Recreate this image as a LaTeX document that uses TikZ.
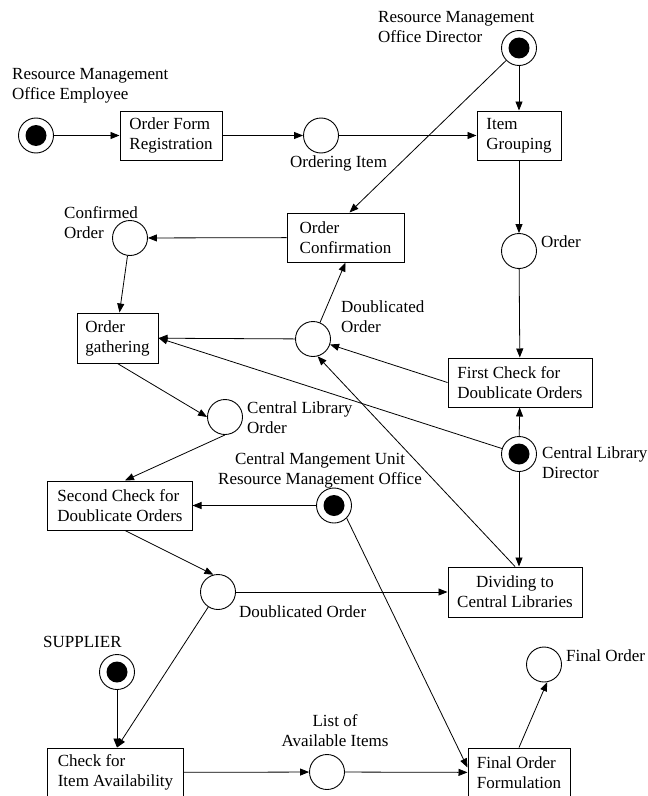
\documentclass[tikz,border=0pt]{standalone}
\usepackage{fontspec}
\setmainfont{Liberation Serif}
\usetikzlibrary{arrows.meta}
\begin{document}
\begin{tikzpicture}[x=1bp,y=-1bp,
  every node/.style={font=\fontsize{17bp}{20bp}\selectfont},
  place/.style={circle,draw,line width=0.9bp,minimum size=35bp,inner sep=0pt},
  token/.style={place,path picture={\fill[black] (path picture bounding box.center) circle (10.5bp);}},
  trans/.style={draw,line width=1bp,inner sep=0pt,align=left,minimum height=49bp},
  lbl/.style={inner sep=0pt,align=left,anchor=west},
  clbl/.style={inner sep=0pt,align=center},
  arc/.style={line width=0.8bp,-{Triangle[length=9bp,width=7bp]}}
]
\fill[white] (0,0) rectangle (648,796);
\useasboundingbox (0,0) rectangle (648,796);

% places and transitions
\node[token] (RMOE) at (36,135.5) {};
\node[trans,minimum width=102bp] (OFR) at (171,135.5) {Order Form\\Registration};
\node[place] (OI) at (321,135.5) {};
\node[trans,minimum width=84bp] (IG) at (519,135.5) {Item\\Grouping};
\node[token] (RMOD) at (519,48) {};
\node[trans,minimum width=117bp] (OC) at (345.5,237.5) {Order\\Confirmation};
\node[place] (CO) at (130,238) {};
\node[place] (ORD) at (519,251) {};
\node[trans,minimum width=81bp,minimum height=50bp] (OG) at (117.5,338) {Order\\gathering};
\node[place] (DO1) at (313,339) {};
\node[trans,minimum width=144bp] (FC) at (520,382.5) {First Check for\\Doublicate Orders};
\node[place] (CLO) at (225,417) {};
\node[token] (CLD) at (519,454) {};
\node[trans,minimum width=144bp] (SC) at (120,505.5) {Second Check for\\Doublicate Orders};
\node[token] (CMU) at (334,505.5) {};
\node[place] (DO2) at (218,592) {};
\node[trans,minimum width=134bp,minimum height=50bp,align=center] (DIV) at (515,592) {Dividing to\\Central Libraries};
\node[token] (SUP) at (117,672) {};
\node[place] (FO) at (544,664.5) {};
\node[trans,minimum width=135bp] (CIA) at (115.5,772.5) {Check for\\Item Availability};
\node[place] (LAI) at (327,772) {};
\node[trans,minimum width=102bp] (FOF) at (519,772.5) {Final Order\\Formulation};

% labels
\node[lbl] (lRMOE) at (12,86) {Resource Management\\Office Employee};
\node[lbl] (lRMOD) at (378,27) {Resource Management\\Office Director};
\node[lbl] (lOI) at (290,163) {Ordering Item};
\node[lbl] (lCO) at (64,222.5) {Confirmed\\Order};
\node[lbl] (lORD) at (541,242) {Order};
\node[lbl] (lDO1) at (341,317) {Doublicated\\Order};
\node[lbl] (lCLO) at (247,418) {Central Library\\Order};
\node[lbl] (lCLD) at (542,462.5) {Central Library\\Director};
\node[clbl] (lCMU) at (320,470) {Central Mangement Unit\\Resource Management Office};
\node[lbl] (lDO2) at (239,612) {Doublicated Order};
\node[lbl] (lSUP) at (43,642) {SUPPLIER};
\node[lbl] (lFO) at (566,656) {Final Order};
\node[clbl] (lLAI) at (335,731) {List of\\Available Items};

\coordinate (ciaIn) at (SUP |- CIA.north);

% connectors
\draw[arc] (RMOE) -- (OFR);
\draw[arc] (OFR) -- (OI);
\draw[arc] (OI) -- (IG);
\draw[arc] (RMOD) -- (IG);
\draw[arc] (RMOD) -- ([xshift=4bp]OC.north);
\draw[arc] (IG) -- (ORD);
\draw[arc] (ORD) -- (FC);
\draw[arc] (OC) -- (CO);
\draw[arc] (CO) -- ([xshift=2bp]OG.north);
\draw[arc] (DO1) -- (OC.south);
\draw[arc] (DO1) -- (OG);
\draw[arc] (FC.west) -- (DO1);
\draw[arc] (CLD) -- (OG.east);
\draw[arc] (CLD) -- (FC);
\draw[arc] (CLD) -- (CLD |- DIV.north);
\draw[arc] (DIV.north) -- (DO1.-75);
\draw[arc] (OG.south) -- (CLO.west);
\draw[arc] (CLO.south) -- ([xshift=5bp]SC.north);
\draw[arc] (CMU) -- (SC);
\draw[arc] (CMU.-45) -- ([yshift=5bp]FOF.west);
\draw[arc] ([xshift=5bp]SC.south) -- (DO2.105);
\draw[arc] (DO2) -- (DIV);
\draw[arc] (DO2) -- (ciaIn);
\draw[arc] (SUP) -- (ciaIn);
\draw[arc] (CIA) -- (LAI);
\draw[arc] (LAI) -- (FOF);
\draw[arc] (FOF.north) -- (FO.-80);
\end{tikzpicture}
\end{document}
